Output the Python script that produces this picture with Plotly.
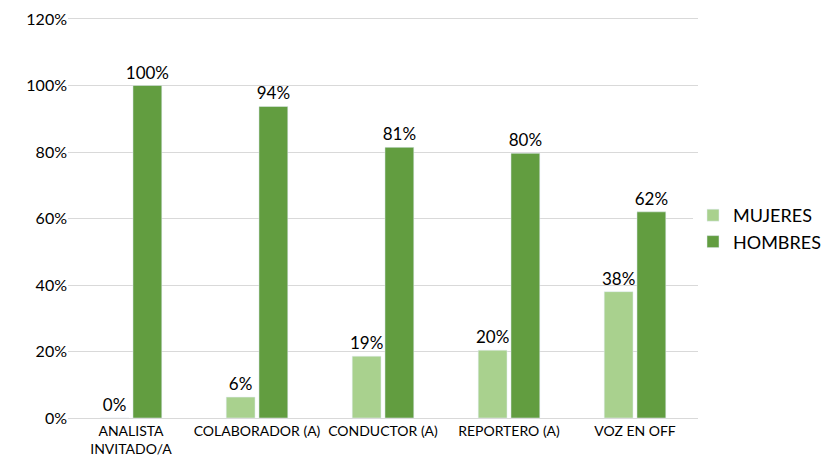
import plotly.graph_objects as go

categories = ["ANALISTA<br>INVITADO/A", "COLABORADOR (A)", "CONDUCTOR (A)", "REPORTERO (A)", "VOZ EN OFF"]
mujeres = [0, 6.3, 18.6, 20.4, 38]
hombres = [100, 93.7, 81.4, 79.6, 62]

FONT = "Lato, DejaVu Sans, sans-serif"

fig = go.Figure()
fig.add_trace(go.Bar(name="MUJERES", x=categories, y=mujeres, marker_color="#A9D18E",
                     texttemplate="%{y:.0f}%", textposition="outside", constraintext="none",
                     textfont=dict(size=17, color="#000000", family=FONT), cliponaxis=False))
fig.add_trace(go.Bar(name="HOMBRES", x=categories, y=hombres, marker_color="#629D40",
                     texttemplate="%{y:.0f}%", textposition="outside", constraintext="none",
                     textfont=dict(size=17, color="#000000", family=FONT), cliponaxis=False))

fig.update_layout(
    width=822, height=457,
    margin=dict(l=68, r=124, t=19, b=39, autoexpand=False),
    paper_bgcolor="white", plot_bgcolor="white",
    barmode="group", bargap=0.48, bargroupgap=0.12,
    font=dict(family=FONT, color="#000000"),
    legend=dict(x=-0.008, y=0.5, yanchor="middle", xanchor="left",
                font=dict(size=18, color="#000000", family=FONT),
                itemwidth=30, tracegroupgap=6),
    showlegend=True,
)
# place legend relative to the paper so it sits right of the plot area
fig.update_layout(legend=dict(x=693 / 822 * 1.0, xref="container", yref="container",
                              y=0.5, yanchor="middle"))
fig.update_yaxes(range=[0, 120], dtick=20, ticksuffix="%", showgrid=True, gridcolor="#D9D9D9",
                 gridwidth=1, zeroline=False, showline=False, automargin=False,
                 tickfont=dict(size=16, color="#000000", family=FONT))
fig.update_xaxes(showline=True, mirror=True, linecolor="#D9D9D9", linewidth=1, automargin=False,
                 tickfont=dict(size=14, color="#000000", family=FONT), ticks="")
fig.write_html("out.html", config={"displayModeBar": False},
               post_script="document.body.style.margin='0';document.body.style.overflow='hidden';")
